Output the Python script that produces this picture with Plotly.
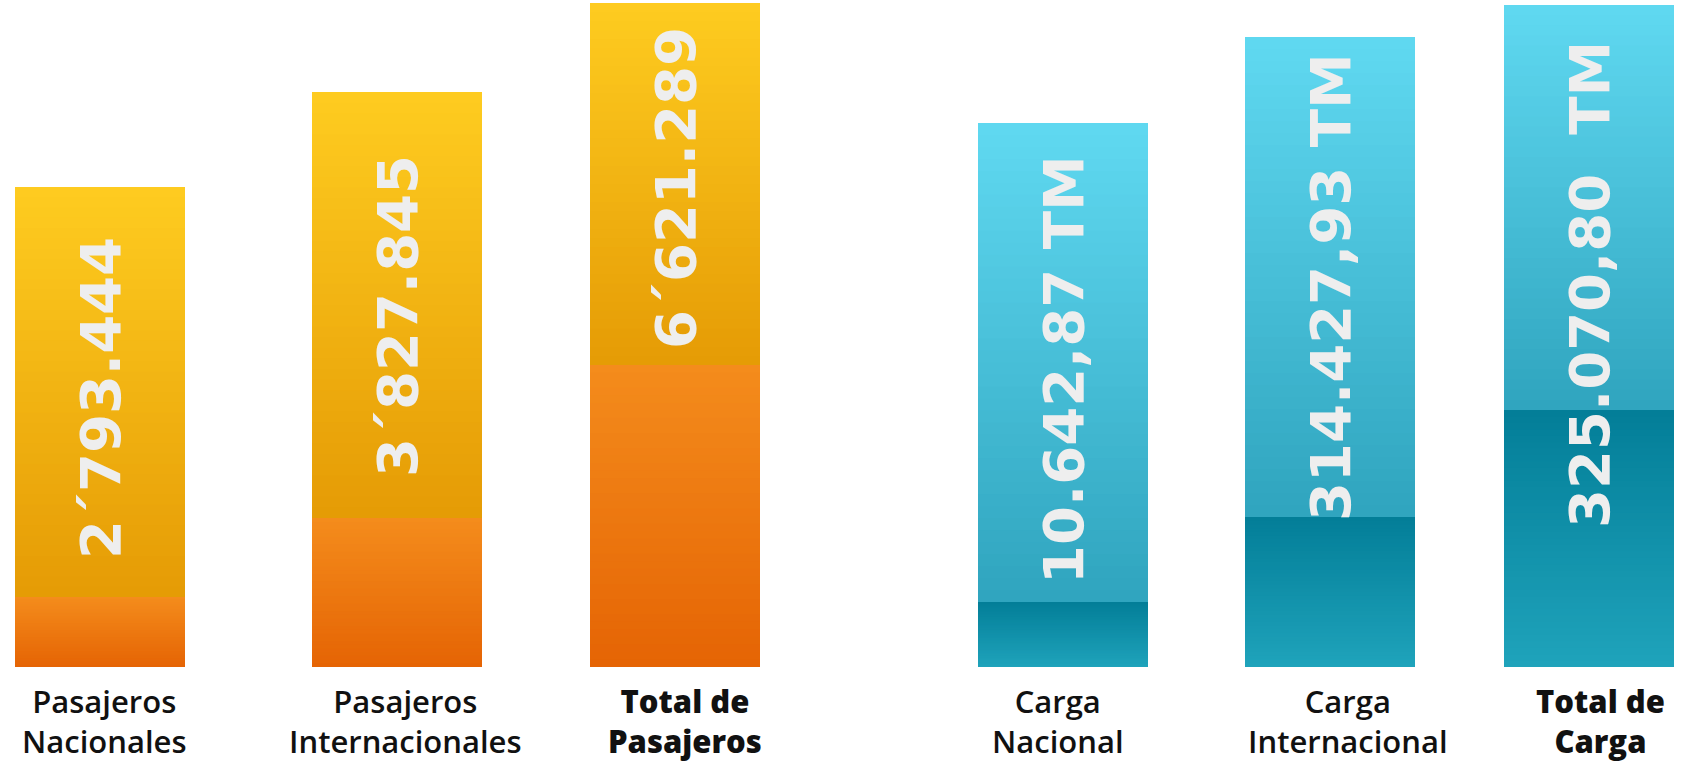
import plotly.graph_objects as go

# ---- data (visual bar heights, arbitrary units) ----
categories = ["Pasajeros<br>Nacionales", "Pasajeros<br>Internacionales", "Total de<br>Pasajeros",
              "Carga<br>Nacional", "Carga<br>Internacional", "Total de<br>Carga"]
label_bold = [False, False, True, False, False, True]
value_labels = ["2´793.444", "3´827.845", "6´621.289",
                "10.642,87 TM", "314.427,93 TM", "325.070,80&nbsp; TM"]
lower_heights = [70, 149, 302, 65, 150, 257]
upper_heights = [410, 426, 362, 479, 480, 405]

# ---- layout / positions (pixel-like axis units) ----
bar_x = [100, 397, 675, 1063, 1330, 1589]
label_x = [104, 405, 685, 1058, 1348, 1600]
value_y = [269, 351, 479, 297, 380, 382]
LABEL_Y = -54
BAR_W = 170
N = 40

styles = {
    "pas": {"idx": [0, 1, 2],
            "upper": ("#FECC20", "#E59B05"),   # (top, bottom)
            "lower": ("#F48C1C", "#E56404")},
    "car": {"idx": [3, 4, 5],
            "upper": ("#60D9F1", "#2FA4BE"),
            "lower": ("#037E98", "#1FA3BB")},
}


def hex2rgb(h):
    h = h.lstrip("#")
    return [int(h[i:i + 2], 16) for i in (0, 2, 4)]


def mix(c_bottom, c_top, t):
    a, b = hex2rgb(c_bottom), hex2rgb(c_top)
    return "rgb(%d,%d,%d)" % tuple(round(a[i] + (b[i] - a[i]) * t) for i in range(3))


fig = go.Figure()
for g in styles.values():
    idx = g["idx"]
    xs = [bar_x[i] for i in idx]
    for seg in ("lower", "upper"):
        top_c, bot_c = g[seg]
        for k in range(N):
            t = (k + 0.5) / N
            ys, bases = [], []
            for i in idx:
                lo = lower_heights[i]
                if seg == "lower":
                    start, h = 0, lo
                else:
                    start, h = lo, upper_heights[i]
                step = h / N
                bases.append(start + k * step)
                ys.append(step + (0.9 if k < N - 1 else 0))
            fig.add_trace(go.Bar(
                x=xs, y=ys, base=bases, width=BAR_W,
                marker=dict(color=mix(bot_c, top_c, t), line=dict(width=0)),
                hoverinfo="skip", showlegend=False,
            ))

for i in range(6):
    fig.add_annotation(
        x=bar_x[i], y=value_y[i], text=value_labels[i], textangle=-90,
        showarrow=False, xanchor="center", yanchor="middle",
        font=dict(family="DejaVu Sans", size=56, color="#EEEEEE", weight="bold"),
    )
    w = 800 if label_bold[i] else 600
    fig.add_annotation(
        x=label_x[i], y=LABEL_Y, text=categories[i],
        showarrow=False, xanchor="center", yanchor="middle", align="center",
        font=dict(family="Open Sans", size=31, color="#111111", weight=w),
    )

fig.update_layout(
    width=1685, height=763,
    margin=dict(l=0, r=0, t=0, b=0),
    paper_bgcolor="white", plot_bgcolor="white",
    barmode="overlay",
    xaxis=dict(range=[0, 1685], visible=False, fixedrange=True),
    yaxis=dict(range=[-96, 667], visible=False, fixedrange=True),
    showlegend=False,
)
fig.write_html("out.html", config={"displayModeBar": False},
               post_script="document.body.style.margin='0';document.body.style.overflow='hidden';")
